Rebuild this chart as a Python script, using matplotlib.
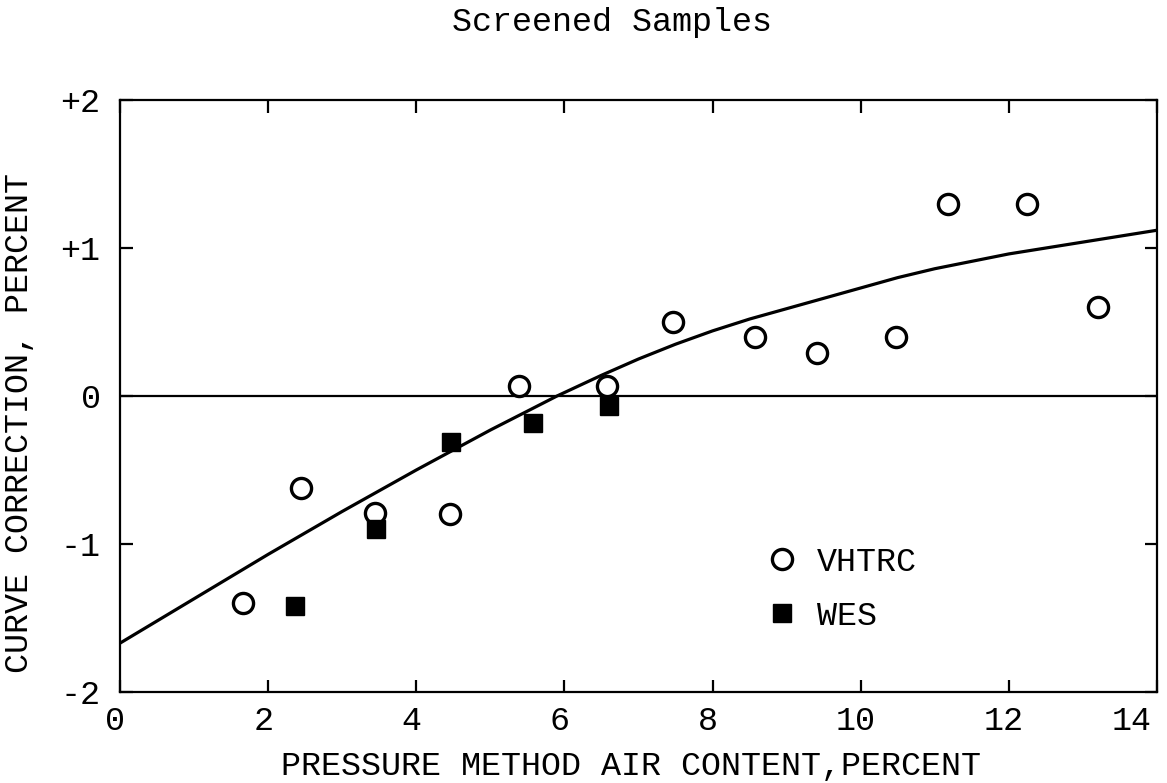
import numpy as np
import matplotlib
matplotlib.use("Agg")
import matplotlib.pyplot as plt
from matplotlib.transforms import ScaledTranslation

# values
vhtrc_x = [1.66, 2.45, 3.44, 4.46, 5.39, 6.58, 7.47, 8.57, 9.41, 10.47, 11.18, 12.25, 13.2]
vhtrc_y = [-1.40, -0.62, -0.79, -0.80, 0.07, 0.07, 0.50, 0.40, 0.29, 0.40, 1.30, 1.30, 0.60]

wes_x = [2.36, 3.45, 4.47, 5.58, 6.60]
wes_y = [-1.42, -0.90, -0.31, -0.18, -0.07]

# fitted curve, points
curve_x = [0, 1, 2, 3, 4, 5, 5.9, 6.5, 7, 7.5, 8, 8.5, 9, 9.5, 10, 10.5,
           11, 11.5, 12, 12.5, 13, 13.5, 14]
curve_y = [-1.67, -1.37, -1.07, -0.78, -0.50, -0.23, 0.0, 0.14, 0.25, 0.35,
           0.44, 0.52, 0.59, 0.66, 0.73, 0.80, 0.86, 0.91, 0.96, 1.00, 1.04,
           1.08, 1.12]

x_ticks = [0, 2, 4, 6, 8, 10, 12, 14]
y_ticks = [-2, -1, 0, 1, 2]
y_tick_labels = ["-2", "-1", "0", "+1", "+2"]

plt.rcParams['font.family'] = ['Liberation Mono', 'DejaVu Sans Mono']
fs = 24

fig = plt.figure(figsize=(11.67, 7.83), dpi=100)
ax = fig.add_axes([120 / 1167, 1 - 692 / 783, 1037 / 1167, 592 / 783])

ax.axhline(0, color='black', lw=1.6, zorder=1)
ax.plot(curve_x, curve_y, color='black', lw=2.3, zorder=2)
ax.plot(vhtrc_x, vhtrc_y, linestyle='none', marker='o', markersize=14.5,
        markerfacecolor='white', markeredgecolor='black', markeredgewidth=2.4,
        label='VHTRC', zorder=3)
ax.plot(wes_x, wes_y, linestyle='none', marker='s', markersize=12.5,
        color='black', label='WES', zorder=3)

ax.set_xlim(0, 14)
ax.set_ylim(-2, 2)
ax.set_xticks(x_ticks)
ax.set_xticklabels([str(v) for v in x_ticks])
ax.set_yticks(y_ticks)
ax.set_yticklabels(y_tick_labels)
ax.tick_params(direction='in', length=9, width=1.6, top=True, right=True,
               labelsize=fs)
ax.tick_params(axis='x', pad=10)
ax.tick_params(axis='y', pad=14)

# typewritten labels sit a little left of their ticks
shift = ScaledTranslation(-5 / 100, 0, fig.dpi_scale_trans)
for lab in ax.get_xticklabels():
    lab.set_transform(lab.get_transform() + shift)
last = ax.get_xticklabels()[-1]
last.set_horizontalalignment('right')

for s in ax.spines.values():
    s.set_linewidth(1.6)

ax.set_xlabel('PRESSURE METHOD AIR CONTENT,PERCENT', fontsize=fs)
ax.xaxis.set_label_coords(0.493, -0.10)
ax.set_ylabel('CURVE CORRECTION, PERCENT', fontsize=fs)
ax.yaxis.set_label_coords(-0.082, 0.454)

fig.text(612 / 1167, 1 - 22 / 783, 'Screened Samples', fontsize=fs,
         ha='center', va='center')

ax.legend(loc='upper left', bbox_to_anchor=(0.624, 0.245), frameon=False,
          numpoints=1, fontsize=fs, handlelength=0.9, handletextpad=0.6,
          labelspacing=0.68, borderpad=0, borderaxespad=0)

fig.savefig('out.png', dpi=100)
